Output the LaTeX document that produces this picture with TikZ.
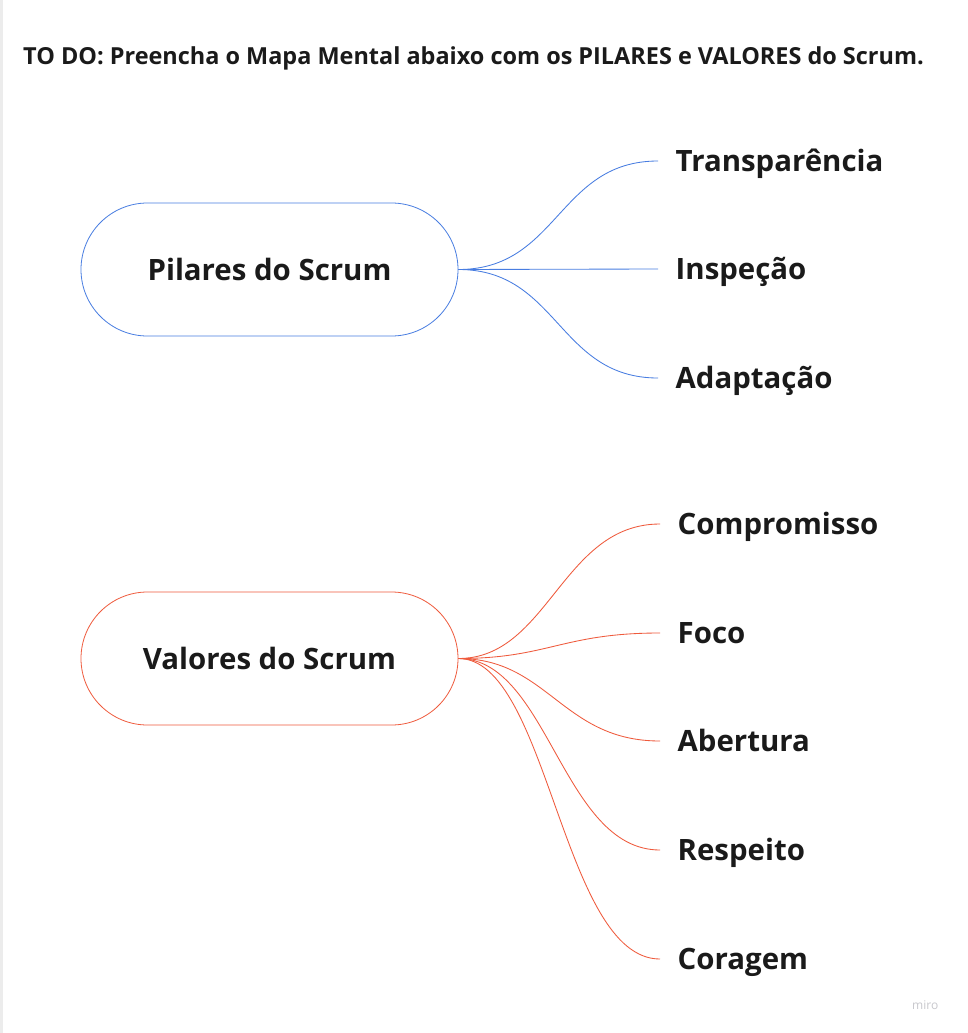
\documentclass[tikz,border=0pt]{standalone}
\usepackage{fontspec}
\setmainfont{Open Sans}
\definecolor{pilblue}{RGB}{72,125,225}
\definecolor{valred}{RGB}{239,90,60}
\definecolor{txtdark}{RGB}{26,26,26}
\definecolor{edgegray}{RGB}{236,236,236}
\definecolor{wmgray}{RGB}{200,200,205}
\tikzset{
  rootnode/.style={draw, line width=0.8pt, rounded corners=66.5pt, minimum width=377pt, minimum height=133pt,
    text height=21.3pt, text depth=0pt, inner sep=0pt, text=txtdark,
    font=\fontsize{29.4}{35}\selectfont\bfseries},
  leafnode/.style={anchor=west, text height=21.3pt, text depth=0pt, inner ysep=0pt, inner xsep=17.5pt,
    text=txtdark, font=\fontsize{29.4}{35}\selectfont\bfseries},
  bluelink/.style={draw=pilblue, line width=0.85pt},
  redlink/.style={draw=valred, line width=0.85pt}
}
\begin{document}
\begin{tikzpicture}[x=1pt,y=-1pt]
\useasboundingbox (0,0) rectangle (967,1033);
\fill[white] (0,0) rectangle (967,1033);
\fill[edgegray] (0,0) rectangle (2.5,1033);
\node[anchor=base west, inner sep=0pt, text=txtdark, font=\fontsize{23.45}{28}\selectfont\bfseries] (title) at (23,65)
  {TO DO: Preencha o Mapa Mental abaixo com os PILARES e VALORES do Scrum.};
% Pilares
\node[rootnode, draw=pilblue] (pil) at (269.5,269.5) {Pilares do Scrum};
\node[leafnode] (p1) at (658,161) {Transparência};
\node[leafnode] (p2) at (658,269) {Inspeção};
\node[leafnode] (p3) at (658,378) {Adaptação};
\foreach \c in {p1,p2,p3}
  \draw[bluelink] (pil.east) .. controls +(100,0) and +(-100,0) .. (\c.west);
% Valores
\node[rootnode, draw=valred] (val) at (269.5,658.5) {Valores do Scrum};
\node[leafnode] (v1) at (660,524) {Compromisso};
\node[leafnode] (v2) at (660,633) {Foco};
\node[leafnode] (v3) at (660,741) {Abertura};
\node[leafnode] (v4) at (660,850) {Respeito};
\node[leafnode] (v5) at (660,959) {Coragem};
\foreach \c in {v1,v2,v3,v4,v5}
  \draw[redlink] (val.east) .. controls +(90,0) and +(-98,0) .. (\c.west);
% watermark
\node[anchor=base west, inner sep=0pt, text=wmgray, font=\fontsize{12}{14}\selectfont] (wm) at (912,1009.5) {miro};
\end{tikzpicture}
\end{document}
